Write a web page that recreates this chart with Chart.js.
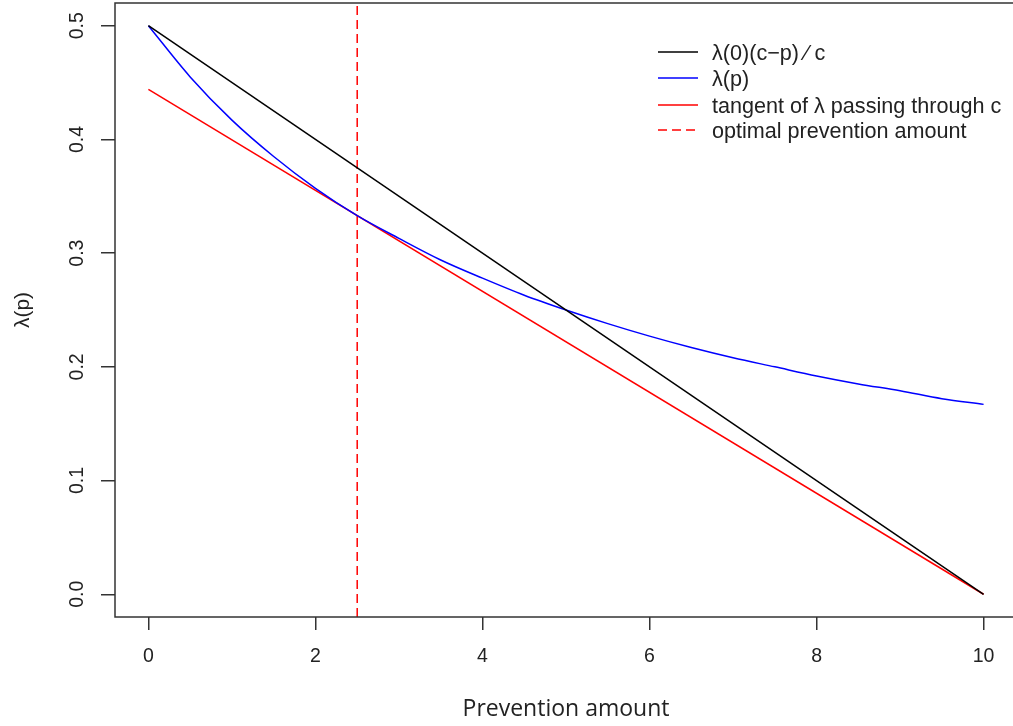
<!DOCTYPE html>
<html lang="en">

<head>
    <meta charset="UTF-8">
    <title>Prevention amount</title>
    <style>
        html, body { margin: 0; padding: 0; overflow: hidden; background: #fff; }
        canvas { display: block; }
    </style>
</head>

<body>
    <canvas id="mychart" width="1018" height="726"></canvas>

    <script src="https://cdn.jsdelivr.net/npm/chart.js@4.4.1/dist/chart.umd.min.js"></script>
    <script>
        // values
        var xTicks = [0, 2, 4, 6, 8, 10];
        var yTicks = [0, 0.1, 0.2, 0.3, 0.4, 0.5];

        // lambda(0)(c-p)/c : straight line
        var linP = [0, 10];
        var linLambda = [0.5, 0];

        // lambda(p) curve
        var curveP = [0, 0.5, 1, 1.5, 2, 2.5, 3, 3.5, 4, 4.5, 5, 5.5, 6, 6.5, 7, 7.5, 8, 8.5, 9, 9.5, 10];
        var curveLambda = [0.500, 0.455, 0.417, 0.385, 0.357, 0.333, 0.313, 0.294, 0.278, 0.263, 0.250,
            0.238, 0.227, 0.217, 0.208, 0.200, 0.192, 0.185, 0.179, 0.172, 0.167];

        // tangent through c
        var tanP = [0, 10];
        var tanLambda = [0.444, 0];

        // optimal prevention amount (vertical line)
        var optP = [2.5, 2.5];
        var optLambda = [-0.02, 0.52];

        var labels = ['\u03bb(0)(c\u2212p) \u2044 c', '\u03bb(p)', 'tangent of \u03bb passing through c', 'optimal prevention amount'];

        function toPoints(xs, ys) {
            return xs.map(function (x, i) { return { x: x, y: ys[i] }; });
        }

        // box around the plot region
        var boxPlugin = {
            id: 'box',
            afterDraw: function (chart) {
                var a = chart.chartArea, c = chart.ctx;
                c.save();
                c.strokeStyle = '#333';
                c.lineWidth = 1.5;
                c.strokeRect(a.left, a.top, a.right - a.left, a.bottom - a.top);
                c.restore();
            }
        };

        // R-style legend without frame
        var legendRows = [52, 78, 105, 130];
        var legendPlugin = {
            id: 'rlegend',
            afterDraw: function (chart) {
                var c = chart.ctx;
                c.save();
                c.font = '21.6px "Liberation Sans", Arial, sans-serif';
                c.textBaseline = 'middle';
                chart.data.datasets.forEach(function (ds, i) {
                    var y = legendRows[i];
                    c.beginPath();
                    c.strokeStyle = ds.borderColor;
                    c.lineWidth = ds.borderWidth;
                    c.setLineDash(ds.borderDash || []);
                    c.moveTo(658, y);
                    c.lineTo(698, y);
                    c.stroke();
                    c.setLineDash([]);
                    c.fillStyle = '#222';
                    c.fillText(ds.label, 712, y + 2);
                });
                c.restore();
            }
        };

        const ctx = document.getElementById('mychart');

        var mychart = new Chart(ctx, {
            type: 'line',
            data: {
                datasets: [{
                    label: labels[0],
                    data: toPoints(linP, linLambda),
                    borderColor: '#000000',
                    borderWidth: 1.5
                }, {
                    label: labels[1],
                    data: toPoints(curveP, curveLambda),
                    borderColor: '#0000ff',
                    borderWidth: 1.5,
                    cubicInterpolationMode: 'monotone'
                }, {
                    label: labels[2],
                    data: toPoints(tanP, tanLambda),
                    borderColor: '#ff0000',
                    borderWidth: 1.5
                }, {
                    label: labels[3],
                    data: toPoints(optP, optLambda),
                    borderColor: '#ff0000',
                    borderWidth: 1.5,
                    borderDash: [9, 5]
                }]
            },
            options: {
                responsive: false,
                animation: false,
                devicePixelRatio: 1,
                elements: { point: { radius: 0, hoverRadius: 0 } },
                layout: { padding: { top: 3, right: 1, left: 0, bottom: 0 } },
                plugins: {
                    legend: { display: false },
                    tooltip: { enabled: false }
                },
                scales: {
                    x: {
                        type: 'linear',
                        min: -0.4,
                        max: 10.4,
                        afterBuildTicks: function (scale) {
                            scale.ticks = xTicks.map(function (v) { return { value: v }; });
                        },
                        afterFit: function (scale) {
                            scale.height = 109;
                            scale.paddingLeft = 0;
                            scale.paddingRight = 0;
                        },
                        border: { display: false },
                        grid: { drawOnChartArea: false, tickLength: 13, color: '#333', lineWidth: 1.5 },
                        ticks: {
                            padding: 15,
                            color: '#222',
                            font: { family: '"Liberation Sans", Arial, sans-serif', size: 19.5 },
                            callback: function (v) { return String(v); }
                        },
                        title: {
                            display: true,
                            text: 'Prevention amount',
                            color: '#222',
                            font: { family: '"Open Sans", sans-serif', size: 23 },
                            padding: { top: 0, bottom: 3 }
                        }
                    },
                    y: {
                        min: -0.02,
                        max: 0.52,
                        afterBuildTicks: function (scale) {
                            scale.ticks = yTicks.map(function (v) { return { value: v }; });
                        },
                        afterFit: function (scale) {
                            scale.width = 115;
                            scale.paddingTop = 0;
                            scale.paddingBottom = 0;
                        },
                        border: { display: false },
                        grid: { drawOnChartArea: false, tickLength: 14, color: '#333', lineWidth: 1.5 },
                        ticks: {
                            minRotation: 90,
                            maxRotation: 90,
                            crossAlign: 'center',
                            padding: 10,
                            color: '#222',
                            font: { family: '"Liberation Sans", Arial, sans-serif', size: 19.5 },
                            callback: function (v) { return v.toFixed(1); }
                        },
                        title: {
                            display: true,
                            text: '\u03bb(p)',
                            color: '#222',
                            font: { family: '"Liberation Sans", Arial, sans-serif', size: 21 },
                            padding: { top: 11, bottom: 0 }
                        }
                    }
                }
            },
            plugins: [boxPlugin, legendPlugin]
        });
    </script>
</body>

</html>
